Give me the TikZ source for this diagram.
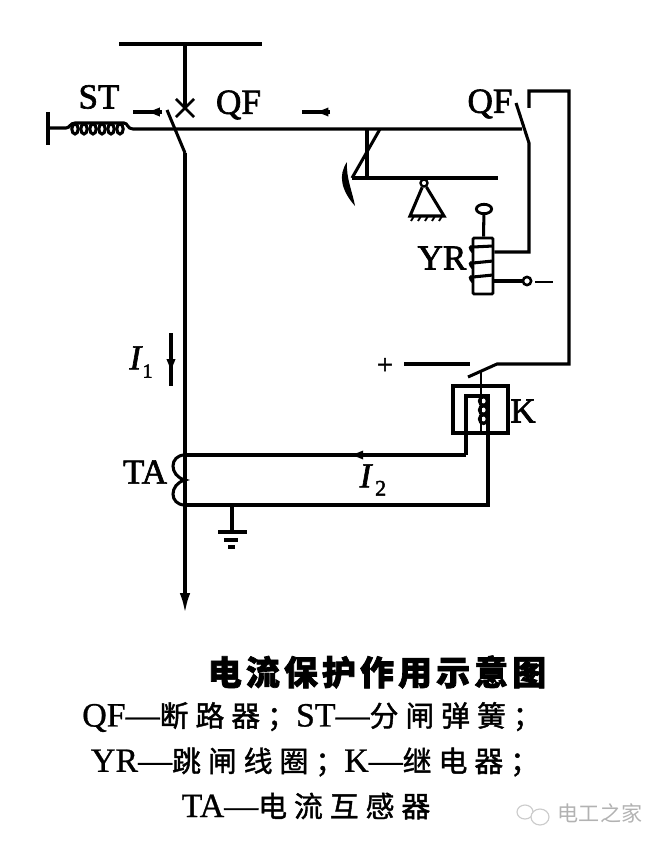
\documentclass[tikz,border=0pt]{standalone}
\usepackage{fontspec}
\usetikzlibrary{arrows.meta,shapes.geometric,shapes.misc,decorations.markings}
\setmainfont{Liberation Serif}
\newfontfamily\cjk[Scale=.85,LetterSpace=24,FakeBold=1.4]{Noto Sans CJK SC}
\newfontfamily\cjktitle[LetterSpace=12,FakeBold=2]{Noto Sans CJK SC}
\newfontfamily\cjkmark{Noto Sans CJK SC}
\newfontfamily\tagfont[FakeBold=1.8]{Liberation Serif}
\newfontfamily\legfont[FakeBold=.8]{Liberation Serif}
\tikzset{
  wire/.style={line width=2.6pt,line join=miter},
  thinwire/.style={line width=2.6pt},
  tag/.style={inner sep=0pt,font=\fontsize{30}{32}\selectfont\tagfont},
  legend/.style={inner sep=0pt,font=\fontsize{29}{32}\selectfont\legfont},
  blob/.style={decoration={markings,mark=at position #1 with {\arrow{Latex[length=13pt,width=8pt]}}},postaction={decorate}},
}
\begin{document}
\begin{tikzpicture}[x=.03cm,y=-.03cm]
\useasboundingbox (0,0) rectangle (666,846);
% bus and main circuit
\coordinate(busl) at (119,44);
\coordinate(busr) at (262,44);
\coordinate(bust) at (185,44);
\coordinate(cross) at (185,108);
\coordinate(swt) at (167,110);
\coordinate(swb) at (185,153);
\coordinate(lineend) at (185,613);
\draw[wire](busl) -- (busr);
\draw[wire](bust) -- (cross);
\node[inner sep=0pt,minimum size=13pt,cross out,draw,line width=2.4pt](crossmark) at (cross) {};
\draw[thinwire](swt) -- (swb);
\draw[wire,-{Latex[length=17pt,width=9pt]}](swb) -- (lineend);
%
% trip spring
\coordinate(stopt) at (48,112);
\coordinate(stopb) at (48,145);
\coordinate(stopm) at (48,128);
\coordinate(shaft) at (522,129);
\draw[wire](stopt) -- (stopb);
\draw[thinwire](stopm) -- (66,128) .. controls (70,128) and (70,123) .. (75,123) -- (124,123)
  .. controls (128,123) and (127,129) .. (133,129) -- (shaft);
\foreach \i in {0,1,2,3,4,5}
  \draw[line width=2.6pt] (75+9*\i,129) ellipse (3.2 and 5);
%
% motion arrows
\coordinate(mva) at (133,112);
\coordinate(mvb) at (162,112);
\coordinate(mvc) at (302,112);
\coordinate(mvd) at (330,112);
\draw[wire,blob=.6](mvb) -- (mva);
\draw[wire,blob=.6](mvd) -- (mvc);
%
% latch and lever
\coordinate(lata) at (367,129);
\coordinate(latb) at (380,129);
\coordinate(latc) at (367,178);
\coordinate(latd) at (352,178);
\coordinate(lever) at (498,178);
\draw[thinwire](lata) -- (latc);
\draw[thinwire](latb) -- (latd);
\draw[wire](latd) -- (lever);
\fill (347,162) .. controls (338,175) and (341,190) .. (355,206) .. controls (352,190) and (346,178) .. (347,162);
%
\node[circle,draw,line width=2pt,inner sep=0pt,minimum size=6pt](pivot) at (424,183) {};
\coordinate(pivl) at (410,216);
\coordinate(pivr) at (444,216);
\draw[thinwire](pivot) -- (pivl) -- (pivr) -- (pivot);
\foreach \i in {0,1,2,3,4}
  \draw[line width=1.6pt] (414+7*\i,216) -- (411+7*\i,221);
%
% auxiliary contact and trip coil
\coordinate(auxt) at (516,103);
\coordinate(auxm) at (529,143);
\coordinate(auxb) at (529,252);
\node[draw,line width=2.4pt,inner sep=0pt,minimum width=.6cm,minimum height=1.68cm,rounded corners=1pt](yr) at (483,266) {};
\node[ellipse,draw,line width=2.4pt,inner sep=0pt,minimum width=13pt,minimum height=8pt](rodtop) at (484,209) {};
\draw[wire](rodtop) -- (yr);
\draw[thinwire](auxt) -- (auxm) -- (auxb) -- (yr.east |- auxb);
\foreach \y/\z in {252/247,268/262,282/276}
  \draw[line width=2.6pt] (473,\y) .. controls (469,\y-4) and (470,\y-6) .. (473,\y-5) -- (493,\z-1);
\node[circle,draw,line width=2.2pt,inner sep=0pt,minimum size=7pt](term) at (527,281) {};
\coordinate(yrlead) at (493,281);
\coordinate(dashl) at (535,282);
\coordinate(dashr) at (553,282);
\draw[thinwire](yrlead) -- (term);
\draw[line width=1.8pt](dashl) -- (dashr);
%
% relay contact and return wire
\coordinate(retl) at (529,108);
\coordinate(rett) at (529,91);
\coordinate(rettr) at (569,91);
\coordinate(retb) at (569,364);
\coordinate(kst) at (497,364);
\coordinate(ksb) at (468,377);
\coordinate(fix) at (470,364);
\coordinate(fixl) at (404,364);
\draw[thinwire](retl) -- (rett) -- (rettr) -- (retb) -- (kst) -- (ksb);
\draw[thinwire](fixl) -- (fix);
%
% relay
\node[draw,line width=2.6pt,inner sep=0pt,minimum width=1.65cm,minimum height=1.41cm](kbox) at (480.5,409.5) {};
\coordinate(rodt) at (481,372);
\coordinate(rodb) at (481,433);
\draw[line width=2pt](rodt) -- (rodb);
\foreach \i in {0,1,2}
  \draw[line width=2.8pt] (483.5,401+9*\i) ellipse (4 and 4.4);
%
% current transformer loop
\coordinate(taa) at (185,455);
\coordinate(tam) at (185,480);
\coordinate(tab) at (185,505);
\coordinate(ka) at (466,455);
\coordinate(kat) at (466,396);
\coordinate(kbt) at (488,396);
\coordinate(kb) at (488,505);
\draw[thinwire](taa) .. controls (169,455) and (169,476) .. (tam) .. controls (169,484) and (169,505) .. (tab);
\draw[thinwire,blob=.42](ka) -- (taa);
\draw[thinwire](ka) -- (kat) -- (kbt) -- (kb) -- (tab);
%
% earth
\coordinate(gnd) at (232,505);
\coordinate(gndb) at (232,532);
\coordinate(gla) at (218,532);
\coordinate(glb) at (247,532);
\coordinate(gma) at (224,540);
\coordinate(gmb) at (238,540);
\coordinate(gna) at (228,547);
\coordinate(gnb) at (235,547);
\draw[thinwire](gnd) -- (gndb);
\draw[thinwire](gla) -- (glb);
\draw[thinwire](gma) -- (gmb);
\draw[thinwire](gna) -- (gnb);
%
% primary current arrow
\coordinate(ione) at (171,333);
\coordinate(itwo) at (171,386);
\draw[wire,blob=.78](ione) -- (itwo);
%
% labels
\node[tag](st) at (99,97) {ST};
\node[tag](qfl) at (238.5,105) {QF};
\node[tag](qfr) at (490,104) {QF};
\node[tag](yrtag) at (442,258) {YR};
\node[tag](ktag) at (523,411) {K};
\node[tag](ta) at (145,472) {TA};
\node[tag](plus) at (385,366) {\fontsize{24}{24}\selectfont +};
\node[tag](ilabel) at (141,362) {\textit{I}\raisebox{-7pt}{\fontsize{17}{17}\selectfont 1}};
\node[tag](iilabel) at (373,480) {\textit{I}\hspace{2pt}\raisebox{-7pt}{\fontsize{19}{19}\selectfont 2}};
%
% caption
\node[inner sep=0pt,font=\fontsize{29}{31}\selectfont\cjktitle\bfseries](title) at (377,672) {电流保护作用示意图};
\node[legend](lega) at (312,717) {QF—{\cjk 断路器；}ST—{\cjk 分闸弹簧；}};
\node[legend](legb) at (315,762) {YR—{\cjk 跳闸线圈；}K—{\cjk 继电器；}};
\node[legend](legc) at (306,806) {TA—{\cjk 电流互感器}};
%
% watermark
\node[inner sep=0pt,text=gray!60,font=\fontsize{18}{20}\selectfont\cjkmark](mark) at (600,813) {电工之家};
\draw[gray!40,line width=1pt] (525,812) ellipse (8 and 7);
\draw[gray!40,line width=1pt,fill=white] (540,817) ellipse (9 and 8);
\end{tikzpicture}
\end{document}
